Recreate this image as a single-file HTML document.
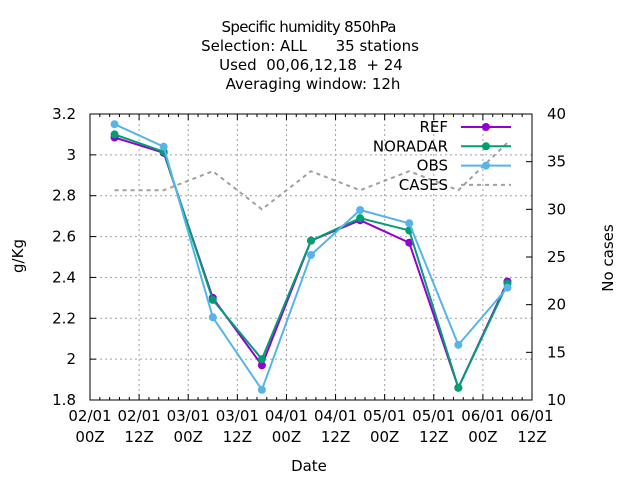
<!DOCTYPE html>
<html><head><meta charset="utf-8"><style>
body{margin:0;background:#fff}
svg text{font-family:"DejaVu Sans","Liberation Sans",sans-serif;fill:#000}
</style></head><body>
<svg id="chart" width="640" height="480" viewBox="0 0 640 480" xmlns="http://www.w3.org/2000/svg">
<g font-size="15" text-anchor="middle">
<text x="309" y="32" textLength="175">Specific humidity 850hPa</text>
<text x="310" y="51" xml:space="preserve">Selection: ALL      35 stations</text>
<text x="311" y="70" xml:space="preserve">Used  00,06,12,18  + 24</text>
<text x="313" y="89">Averaging window: 12h</text>
</g>
<g id="grid"></g>
<g id="axes"></g>
<g id="series"></g>
<g id="legend"></g>
<text x="309" y="471" font-size="15" text-anchor="middle">Date</text>
<text transform="translate(23,256) rotate(-90)" font-size="15" text-anchor="middle">g/Kg</text>
<text transform="translate(613,258) rotate(-90)" font-size="15" text-anchor="middle">No cases</text>
</svg>
<script>
const xTickLabels1 = ["02/01","02/01","03/01","03/01","04/01","04/01","05/01","05/01","06/01","06/01"];
const xTickLabels2 = ["00Z","12Z","00Z","12Z","00Z","12Z","00Z","12Z","00Z","12Z"];
const yTicks = [1.8,2.0,2.2,2.4,2.6,2.8,3.0,3.2];
const yTickLabels = ["1.8","2","2.2","2.4","2.6","2.8","3","3.2"];
const y2Ticks = [10,15,20,25,30,35,40];
const times = [6,18,30,42,54,66,78,90,102];
const refValues = [3.085,3.01,2.30,1.97,2.58,2.68,2.57,1.86,2.38];
const noradarValues = [3.10,3.015,2.29,2.00,2.58,2.69,2.63,1.86,2.37];
const obsValues = [3.15,3.04,2.205,1.85,2.51,2.73,2.665,2.07,2.35];
const casesValues = [32,32,34,30,34,32,34,32,37];

const L=90,R=532,T=114,B=400;
const X=h=>L+(h/108)*(R-L);
const Y=v=>B-(v-1.8)/1.4*(B-T);
const Y2=v=>B-(v-10)/30*(B-T);
const NS="http://www.w3.org/2000/svg";
function mk(tag,attrs,parent){const e=document.createElementNS(NS,tag);for(const k in attrs)e.setAttribute(k,attrs[k]);parent.appendChild(e);return e;}
const grid=document.getElementById('grid'),axes=document.getElementById('axes'),series=document.getElementById('series'),legend=document.getElementById('legend');
for(let i=1;i<xTickLabels1.length;i++){const x=X(i*12);if(x>=R)continue;
 const g=mk('line',{x1:x,x2:x,y1:T,y2:B,stroke:'#a0a0a0','stroke-width':1,'stroke-dasharray':'2,3'},grid);
 
 }
yTicks.forEach(v=>{if(v<=1.8||v>=3.2)return;const y=Y(v);
 const g=mk('line',{x1:L,x2:R,y1:y,y2:y,stroke:'#a0a0a0','stroke-width':1,'stroke-dasharray':'2,3'},grid);
 
 });
const fr=mk('rect',{x:L,y:T,width:R-L,height:B-T,fill:'none',stroke:'#000','stroke-width':1},axes);


for(let h=0;h<=108;h+=2.4){const x=X(h);const major=Math.abs(h/12-Math.round(h/12))<0.01;const len=major?6:3;
 mk('line',{x1:x,x2:x,y1:B,y2:B-len,stroke:'#000'},axes);mk('line',{x1:x,x2:x,y1:T,y2:T+len,stroke:'#000'},axes);}
xTickLabels1.forEach((t,i)=>{const x=X(i*12);
 const a=mk('text',{x:x,y:421,'font-size':15,'text-anchor':'middle'},axes);a.textContent=t;
 
 
 const b=mk('text',{x:x,y:442,'font-size':15,'text-anchor':'middle'},axes);b.textContent=xTickLabels2[i];
 
 });
yTicks.forEach((v,i)=>{const y=Y(v);mk('line',{x1:L,x2:L+6,y1:y,y2:y,stroke:'#000'},axes);
 const t=mk('text',{x:76,y:y+5,'font-size':15,'text-anchor':'end'},axes);t.textContent=yTickLabels[i];
 
 });
y2Ticks.forEach(v=>{const y=Y2(v);mk('line',{x1:R,x2:R-6,y1:y,y2:y,stroke:'#000'},axes);
 const t=mk('text',{x:547,y:y+5,'font-size':15},axes);t.textContent=v;
 
 });
function drawSeries(vals,scale,color,name,marker,dash){
 const pts=vals.map((v,i)=>X(times[i])+','+scale(v)).join(' ');
 const pl=mk('polyline',{points:pts,fill:'none',stroke:color,'stroke-width':2},series);
 if(dash)pl.setAttribute('stroke-dasharray',dash);
 
 
 if(marker)vals.forEach((v,i)=>{const c=mk('circle',{cx:X(times[i]),cy:scale(v),r:4,fill:color},series);
  
  });}
drawSeries(casesValues,Y2,'#a0a0a0','cases',false,'4,4');
drawSeries(refValues,Y,'#9400d3','ref',true);
drawSeries(noradarValues,Y,'#009e73','noradar',true);
drawSeries(obsValues,Y,'#56b4e9','obs',true);
[["REF","#9400d3",true],["NORADAR","#009e73",true],["OBS","#56b4e9",true],["CASES","#a0a0a0",false]].forEach((e,i)=>{
 const y=127+i*19.3;
 const t=mk('text',{x:448,y:y+5,'font-size':15,'text-anchor':'end'},legend);t.textContent=e[0];
 
 
 const l=mk('line',{x1:461,x2:511,y1:y,y2:y,stroke:e[1],'stroke-width':2},legend);
 if(!e[2])l.setAttribute('stroke-dasharray','4,4');
 if(e[2])mk('circle',{cx:486,cy:y,r:4,fill:e[1]},legend);});
</script>
</body></html>
